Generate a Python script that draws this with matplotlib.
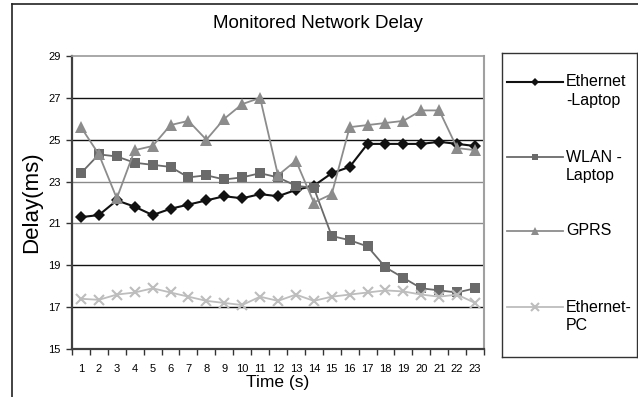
import matplotlib
matplotlib.use("Agg")
import matplotlib.pyplot as plt
from matplotlib.lines import Line2D

plt.rcParams['font.family'] = ['Liberation Sans', 'DejaVu Sans']

# time in seconds
seconds = list(range(1, 24))

eth_laptop = [21.3, 21.4, 22.1, 21.8, 21.4, 21.7, 21.9, 22.1, 22.3, 22.2, 22.4, 22.3,
              22.6, 22.8, 23.4, 23.7, 24.8, 24.8, 24.8, 24.8, 24.9, 24.8, 24.7]
wlan_laptop = [23.4, 24.3, 24.2, 23.9, 23.8, 23.7, 23.2, 23.3, 23.1, 23.2, 23.4, 23.2,
               22.8, 22.7, 20.4, 20.2, 19.9, 18.9, 18.4, 17.9, 17.8, 17.7, 17.9]
gprs = [25.6, 24.3, 22.2, 24.5, 24.7, 25.7, 25.9, 25.0, 26.0, 26.7, 27.0, 23.3,
        24.0, 22.0, 22.4, 25.6, 25.7, 25.8, 25.9, 26.4, 26.4, 24.6, 24.5]
eth_pc = [17.4, 17.35, 17.6, 17.7, 17.9, 17.7, 17.5, 17.3, 17.2, 17.1, 17.5, 17.3,
          17.6, 17.3, 17.5, 17.6, 17.7, 17.8, 17.75, 17.6, 17.5, 17.6, 17.2]

series_names = ['Ethernet\n-Laptop', 'WLAN -\nLaptop', 'GPRS', 'Ethernet-\nPC']
y_ticks = [15, 17, 19, 21, 23, 25, 27, 29]

styles = [
    dict(color='#111111', marker='D', ms=6.5, lw=1.5, mew=0),
    dict(color='#6a6a6a', marker='s', ms=7, lw=1.3, mew=0),
    dict(color='#8c8c8c', marker='^', ms=8.5, lw=1.3, mew=0),
    dict(color='#bdbdbd', marker='x', ms=7.5, lw=1.3, mew=1.5),
]

W, H = 638, 397
fig = plt.figure(figsize=(W / 100, H / 100), dpi=100)
ax = fig.add_axes([72 / W, 1 - 349 / H, 412 / W, 293 / H])

for vals, st in zip([eth_laptop, wlan_laptop, gprs, eth_pc], styles):
    ax.plot(seconds, vals, clip_on=False, **st)

ax.set_xlim(0.5, 23.5)
ax.set_ylim(15, 29)
ax.set_yticks(y_ticks)
ax.tick_params(axis='y', direction='out', length=4, width=1, color='#333333',
               labelsize=8, pad=4)

# category ticks sit between the labels
ax.set_xticks([s - 0.5 for s in seconds] + [23.5])
ax.set_xticklabels([])
ax.set_xticks(seconds, minor=True)
ax.set_xticklabels([str(s) for s in seconds], minor=True, fontsize=8)
ax.tick_params(axis='x', which='major', direction='out', length=4, width=1, color='#333333')
ax.tick_params(axis='x', which='minor', length=0, pad=11)

ax.yaxis.grid(True)
grid_cols = {15: 'none', 17: '#111111', 19: '#111111', 21: '#8a8a8a',
             23: '#8a8a8a', 25: '#111111', 27: '#111111', 29: 'none'}
for val, gl in zip(y_ticks, ax.get_ygridlines()):
    gl.set_color(grid_cols[val])
    gl.set_linewidth(1.0)
ax.set_axisbelow(True)

ax.spines['left'].set_color('#404040')
ax.spines['left'].set_linewidth(1.6)
ax.spines['bottom'].set_color('#404040')
ax.spines['bottom'].set_linewidth(1.6)
ax.spines['top'].set_color('#9a9a9a')
ax.spines['top'].set_linewidth(1.2)
ax.spines['right'].set_color('#a0a0a0')
ax.spines['right'].set_linewidth(1.5)

ax.set_xlabel('Time (s)', fontsize=12.5)
ax.xaxis.set_label_coords(0.5, -0.088)
ax.set_ylabel('Delay(ms)', fontsize=16)
ax.yaxis.set_label_coords(-0.072, 0.5)

fig.text(318 / W, 1 - 23 / H, 'Monitored Network Delay', fontsize=13.5,
         ha='center', va='center')

# legend box
lax = fig.add_axes([502 / W, 1 - 357 / H, 135 / W, 304 / H])
lax.set_xlim(0, 1)
lax.set_ylim(0, 1)
lax.set_xticks([])
lax.set_yticks([])
for sp in lax.spines.values():
    sp.set_color('#333333')
    sp.set_linewidth(1.0)
key_y = [0.906, 0.657, 0.4145, 0.1635]
for name, st, ky in zip(series_names, styles, key_y):
    lax.plot([0.037, 0.452], [ky, ky], color=st['color'], lw=st['lw'])
    lax.plot([0.245], [ky], linestyle='none', color=st['color'], marker=st['marker'],
             ms=st['ms'] * 0.7, mew=st['mew'])
    lax.text(0.474, ky + 0.025, name, fontsize=11.5, ha='left', va='top', linespacing=1.3)

# outer frame of the chart area
fig.add_artist(Line2D([12 / W, 12 / W], [0, 1 - 3.5 / H], color='#222222', lw=1.2))
fig.add_artist(Line2D([12 / W, 1], [1 - 3.5 / H, 1 - 3.5 / H], color='#222222', lw=1.2))

fig.savefig('out.png', dpi=100)
